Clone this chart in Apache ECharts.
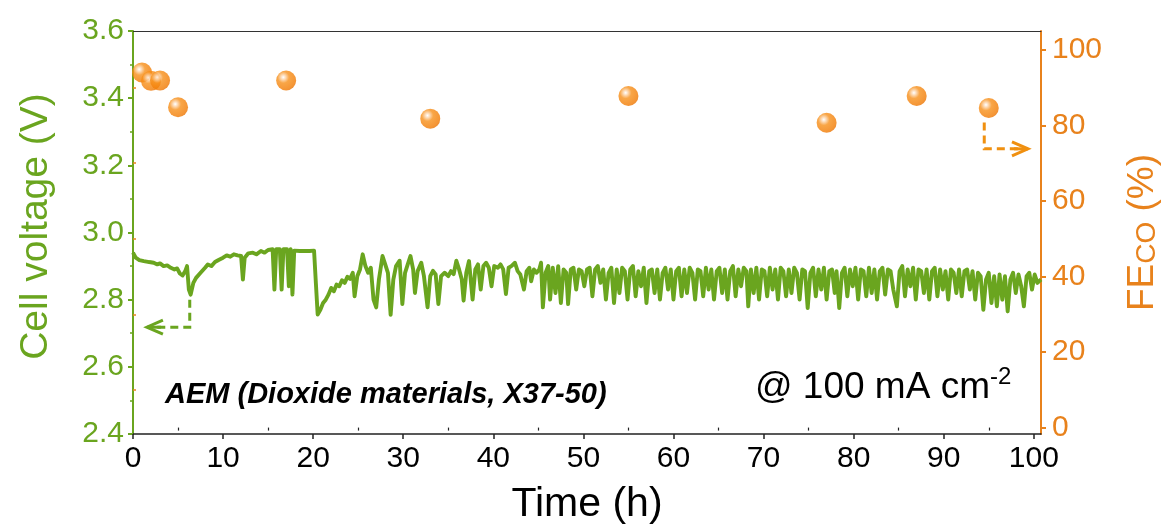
<!DOCTYPE html>
<html>
<head>
<meta charset="utf-8">
<script src="https://cdn.jsdelivr.net/npm/echarts@6/dist/echarts.min.js"></script>
<style>
  html, body { margin: 0; padding: 0; background: #fff; }
  #chart { width: 1169px; height: 530px; }
</style>
</head>
<body>
<div id="chart"></div>
<script>
// Cell voltage recorded over the 100 h run: [time (h), voltage (V)]
const voltageTrace = [
  [0.0,2.940],[0.3,2.925],[0.7,2.918],[1.2,2.915],[1.8,2.912],[2.3,2.910],[2.7,2.905],[3.0,2.908],
  [3.4,2.900],[3.8,2.902],[4.2,2.895],[4.6,2.890],[4.9,2.893],[5.2,2.878],[5.5,2.872],[5.8,2.885],
  [6.0,2.900],[6.2,2.830],[6.4,2.815],[6.7,2.850],[7.0,2.865],[7.5,2.880],[8.0,2.895],[8.3,2.905],
  [8.7,2.900],[9.1,2.912],[9.5,2.918],[10.0,2.925],[10.4,2.932],[10.8,2.928],[11.2,2.935],[11.6,2.932],
  [12.0,2.930],[12.2,2.860],[12.4,2.925],[12.8,2.938],[13.3,2.940],[13.7,2.935],[14.2,2.945],[14.6,2.940],
  [15.0,2.948],[15.5,2.950],[15.7,2.830],[15.9,2.950],[16.3,2.950],[16.5,2.830],[16.7,2.950],[17.1,2.950],
  [17.3,2.840],[17.5,2.950],[17.7,2.815],[17.9,2.946],[18.5,2.945],[19.0,2.945],[19.6,2.945],[20.1,2.946],
  [20.3,2.850],[20.5,2.756],[20.8,2.770],[21.1,2.790],[21.4,2.800],[21.7,2.815],[22.0,2.835],[22.3,2.825],
  [22.6,2.845],[22.9,2.840],[23.2,2.858],[23.5,2.850],[23.8,2.868],[24.1,2.862],
  [24.4,2.88],[24.6,2.81],[24.9,2.87],[25.2,2.89],[25.5,2.935],[25.8,2.90],[26.1,2.88],[26.4,2.895],
  [26.7,2.80],[27.0,2.777],[27.3,2.86],[27.7,2.93],[28.0,2.905],[28.3,2.88],[28.6,2.755],[28.9,2.86],
  [29.2,2.90],[29.6,2.916],[29.9,2.787],[30.2,2.88],[30.5,2.905],[30.8,2.93],[31.1,2.89],[31.3,2.82],
  [31.6,2.885],[32.0,2.91],[32.3,2.87],[32.7,2.777],[33.0,2.87],[33.3,2.886],[33.6,2.875],[33.9,2.787],
  [34.2,2.87],[34.6,2.88],[35.0,2.87],[35.3,2.885],[35.6,2.876],[35.9,2.916],[36.2,2.89],[36.5,2.86],
  [36.7,2.797],[37.0,2.88],[37.3,2.915],[37.7,2.80],[38.0,2.89],[38.3,2.905],[38.6,2.83],[38.9,2.90],
  [39.2,2.91],[39.5,2.895],[39.8,2.84],[40.1,2.90],[40.5,2.895],[40.8,2.905],[41.1,2.89],[41.4,2.817],
  [41.7,2.895],[42.0,2.90],[42.4,2.91],[42.7,2.885],[43.0,2.875],[43.4,2.83],[43.7,2.885],[44.0,2.895],
  [44.2,2.855],[44.5,2.89],[44.8,2.88],[45.1,2.89],[45.3,2.91],[45.5,2.777],[45.8,2.88],[46.1,2.90],
  [46.3,2.80],[46.6,2.895],[46.9,2.82],[47.2,2.90],[47.5,2.79],[47.8,2.89],[48.1,2.88],[48.3,2.787],
  [48.6,2.89],[48.9,2.895],[49.2,2.83],[49.5,2.89],[49.8,2.885],[50.1,2.84],[50.4,2.89],[50.7,2.895],
  [51.0,2.81],[51.3,2.89],[51.6,2.90],[51.9,2.85],[52.2,2.89],[52.5,2.80],[52.8,2.88],[53.1,2.895],
  [53.4,2.79],[53.7,2.89],[54.0,2.82],[54.3,2.895],[54.6,2.885],[54.9,2.80],[55.2,2.89],[55.5,2.90],
  [55.8,2.81],[56.1,2.885],[56.4,2.84],[56.7,2.895],[57.0,2.79],[57.3,2.885],[57.6,2.89],[57.9,2.82],
  [58.2,2.89],[58.5,2.80],[58.8,2.88],[59.1,2.895],[59.4,2.83],[59.7,2.89],[60.0,2.80],
  [60.3,2.885],[60.6,2.895],[60.9,2.81],[61.2,2.89],[61.5,2.82],[61.8,2.895],[62.1,2.88],[62.4,2.80],
  [62.7,2.89],[63.0,2.885],[63.3,2.81],[63.6,2.895],[63.9,2.83],[64.2,2.89],[64.5,2.80],[64.8,2.885],
  [65.1,2.895],[65.4,2.82],[65.7,2.89],[66.0,2.80],[66.3,2.885],[66.6,2.90],[66.9,2.81],[67.2,2.89],
  [67.5,2.84],[67.8,2.895],[68.1,2.885],[68.3,2.78],[68.6,2.89],[68.9,2.82],[69.2,2.895],[69.5,2.80],
  [69.8,2.89],[70.1,2.885],[70.4,2.81],[70.7,2.895],[71.0,2.83],[71.3,2.89],[71.6,2.80],[71.9,2.895],
  [72.2,2.885],[72.5,2.81],[72.8,2.89],[73.1,2.82],[73.4,2.895],[73.7,2.88],[74.0,2.80],[74.3,2.89],
  [74.6,2.885],[74.9,2.775],[75.2,2.88],[75.5,2.895],[75.8,2.81],[76.1,2.89],[76.4,2.83],[76.7,2.895],
  [77.0,2.80],[77.3,2.885],[77.6,2.89],[77.9,2.82],[78.1,2.885],[78.4,2.775],[78.7,2.88],[79.0,2.895],
  [79.3,2.81],[79.6,2.89],[79.9,2.84],[80.2,2.895],[80.5,2.80],[80.8,2.89],[81.1,2.885],[81.4,2.81],
  [81.7,2.895],[82.0,2.82],[82.3,2.89],[82.6,2.80],[82.9,2.885],[83.2,2.895],[83.5,2.815],[83.8,2.89],
  [84.1,2.885],[84.4,2.83],[84.8,2.78],[85.1,2.885],[85.4,2.90],[85.7,2.81],[86.0,2.89],[86.3,2.84],
  [86.6,2.895],[86.9,2.80],[87.2,2.89],[87.5,2.885],[87.8,2.82],[88.1,2.89],[88.4,2.80],[88.7,2.885],
  [89.0,2.895],[89.3,2.81],[89.6,2.89],[89.9,2.83],[90.2,2.885],[90.5,2.80],[90.8,2.89],[91.1,2.88],
  [91.4,2.82],[91.7,2.89],[92.0,2.81],[92.3,2.885],[92.6,2.89],[92.9,2.83],[93.2,2.885],[93.5,2.80],
  [93.8,2.88],[94.1,2.87],[94.4,2.77],[94.7,2.86],[95.0,2.88],[95.3,2.79],[95.6,2.87],[95.9,2.78],
  [96.2,2.875],[96.5,2.80],[96.8,2.87],[97.1,2.765],[97.4,2.86],[97.7,2.88],[98.0,2.82],[98.3,2.875],
  [98.6,2.84],[98.9,2.78],[99.2,2.87],[99.5,2.88],[99.8,2.83],[100.1,2.875],[100.4,2.85],[100.8,2.86]
];

// CO Faradaic efficiency samples
const feTimes = [1, 2, 3, 5, 17, 33, 55, 77, 87, 95];
const feValues = [94, 91.8, 91.9, 84.8, 91.9, 81.8, 87.8, 80.7, 87.8, 84.6];

// Tick labels
const timeTicks = [0, 10, 20, 30, 40, 50, 60, 70, 80, 90, 100];
const timeMinorTicks = [5, 15, 25, 35, 45, 55, 65, 75, 85, 95];
const voltageTicks = [2.4, 2.6, 2.8, 3.0, 3.2, 3.4, 3.6];
const voltageMinorTicks = [2.5, 2.7, 2.9, 3.1, 3.3, 3.5];
const feTicks = [0, 20, 40, 60, 80, 100];
const feMinorTicks = [10, 30, 50, 70, 90];

const GREEN = '#6aa51f';
const ORANGE = '#e8821c';
const FONT = '"Liberation Sans", Arial, Helvetica, sans-serif';

const feData = feTimes.map((t, i) => [t, feValues[i]]);

const chart = echarts.init(document.getElementById('chart'), null, { renderer: 'canvas' });

const hiddenAxisBits = { axisLine: { show: false }, axisLabel: { show: false }, splitLine: { show: false } };

const option = {
  animation: false,
  backgroundColor: '#ffffff',
  grid: { left: 133, right: 126, top: 31, bottom: 92, containLabel: false },
  xAxis: [
    {
      type: 'value', position: 'bottom', min: 0, max: 100.8,
      name: 'Time (h)', nameLocation: 'middle', nameGap: 50,
      nameTextStyle: { color: '#000', fontSize: 41, fontFamily: FONT },
      axisLine: { show: true, onZero: false, lineStyle: { color: '#222', width: 1.5 } },
      axisTick: { show: true, inside: false, length: 5, customValues: timeTicks, lineStyle: { color: '#222', width: 1.5 } },
      axisLabel: { show: true, customValues: timeTicks, margin: 10, color: '#000', fontSize: 30, fontFamily: FONT },
      splitLine: { show: false }
    },
    {
      type: 'value', position: 'bottom', min: 0, max: 100.8,
      ...hiddenAxisBits,
      axisTick: { show: true, inside: false, length: 3, customValues: timeMinorTicks, lineStyle: { color: '#222', width: 1.2 } }
    },
    {
      type: 'value', position: 'top', min: 0, max: 100.8,
      axisLine: { show: true, onZero: false, lineStyle: { color: '#333', width: 1 } },
      axisTick: { show: false }, axisLabel: { show: false }, splitLine: { show: false }
    }
  ],
  yAxis: [
    {
      type: 'value', position: 'left', min: 2.4, max: 3.6,
      name: 'Cell voltage (V)', nameLocation: 'middle', nameGap: 77, nameRotate: 90,
      nameTextStyle: { color: GREEN, fontSize: 39, fontFamily: FONT, padding: [0, 0, 0, 12] },
      axisLine: { show: true, onZero: false, lineStyle: { color: GREEN, width: 2 } },
      axisTick: { show: true, inside: false, length: 5, customValues: voltageTicks, lineStyle: { color: GREEN, width: 2 } },
      axisLabel: { show: true, customValues: voltageTicks, margin: 9, color: GREEN, fontSize: 30, fontFamily: FONT,
        formatter: v => v.toFixed(1) },
      splitLine: { show: false }
    },
    {
      type: 'value', position: 'left', min: 2.4, max: 3.6,
      ...hiddenAxisBits,
      axisTick: { show: true, inside: false, length: 3, customValues: voltageMinorTicks, lineStyle: { color: GREEN, width: 1.5 } }
    },
    {
      type: 'value', position: 'right', min: -1.7, max: 105,
      name: '{a|FE}{b|CO}{a| (%)}', nameLocation: 'middle', nameGap: 80, nameRotate: 90,
      nameTextStyle: {
        color: ORANGE, fontFamily: FONT,
        rich: {
          a: { fontSize: 37, color: ORANGE, fontFamily: FONT, lineHeight: 40, verticalAlign: 'bottom' },
          b: { fontSize: 28, color: ORANGE, fontFamily: FONT, lineHeight: 14, verticalAlign: 'bottom' }
        }
      },
      axisLine: { show: true, onZero: false, lineStyle: { color: ORANGE, width: 2 } },
      axisTick: { show: true, inside: false, length: 5, customValues: feTicks, lineStyle: { color: ORANGE, width: 2 } },
      axisLabel: { show: true, customValues: feTicks, margin: 11, color: ORANGE, fontSize: 30, fontFamily: FONT },
      splitLine: { show: false }
    },
    {
      type: 'value', position: 'right', min: -1.7, max: 105,
      ...hiddenAxisBits,
      axisTick: { show: true, inside: false, length: 3, customValues: feMinorTicks, lineStyle: { color: ORANGE, width: 1.5 } }
    }
  ],
  series: [
    {
      name: 'Cell voltage', type: 'line', xAxisIndex: 0, yAxisIndex: 0,
      data: voltageTrace, showSymbol: false, symbol: 'none',
      lineStyle: { color: GREEN, width: 3.9, join: 'round' },
      z: 2
    },
    {
      name: 'FE CO', type: 'scatter', xAxisIndex: 0, yAxisIndex: 2,
      data: feData, symbol: 'circle', symbolSize: 20,
      itemStyle: {
        color: {
          type: 'radial', x: 0.36, y: 0.34, r: 0.72,
          colorStops: [
            { offset: 0, color: '#ffffff' },
            { offset: 0.16, color: '#fcd2a6' },
            { offset: 0.4, color: '#f7901a' },
            { offset: 0.85, color: '#f27c04' },
            { offset: 1, color: '#e87000' }
          ]
        }
      },
      z: 3
    }
  ]
};

chart.setOption(option);

// Dashed elbow arrows that tie each trace to its axis, anchored in data space
function px(xAxisIndex, yAxisIndex, point) {
  return chart.convertToPixel({ xAxisIndex: xAxisIndex, yAxisIndex: yAxisIndex }, point);
}

function elbowArrow(corner, start, end, dir, color) {
  const tip = [end[0] + dir * 5, end[1]];
  return [
    {
      type: 'polyline', silent: true, z: 10,
      shape: { points: [start, corner, end] },
      style: { stroke: color, lineWidth: 3, lineDash: [8, 5], fill: null }
    },
    {
      type: 'polyline', silent: true, z: 10,
      shape: { points: [[tip[0] - dir * 16, tip[1] - 7], tip, [tip[0] - dir * 16, tip[1] + 7]] },
      style: { stroke: color, lineWidth: 3, fill: null, lineJoin: 'miter' }
    },
    {
      type: 'line', silent: true, z: 10,
      shape: { x1: tip[0] - dir * 14, y1: tip[1], x2: tip[0], y2: tip[1] },
      style: { stroke: color, lineWidth: 3 }
    }
  ];
}

const gStart = px(0, 0, [6.3, 2.80]);
const gCorner = px(0, 0, [6.3, 2.718]);
const gEnd = px(0, 0, [2.1, 2.718]);

const oStart = px(0, 2, [94.5, 80.8]);
const oCorner = px(0, 2, [94.5, 73.8]);
const oEnd = px(0, 2, [98.8, 73.8]);

chart.setOption({
  graphic: [
    ...elbowArrow(gCorner, gStart, gEnd, -1, GREEN),
    ...elbowArrow(oCorner, oStart, oEnd, 1, '#f09010'),
    {
      type: 'text', silent: true, z: 10,
      x: 165, y: 380,
      style: {
        text: 'AEM (Dioxide materials, X37-50)',
        fill: '#000', font: 'italic bold 29px ' + FONT
      }
    },
    {
      type: 'text', silent: true, z: 10,
      x: 755, y: 365,
      style: {
        text: '{n|@ 100 mA cm}{s|-2}',
        fill: '#000',
        rich: {
          n: { fontSize: 37, fontFamily: FONT, fill: '#000', lineHeight: 41, verticalAlign: 'bottom' },
          s: { fontSize: 24, fontFamily: FONT, fill: '#000', lineHeight: 14, verticalAlign: 'top' }
        }
      }
    }
  ]
});
</script>
</body>
</html>
